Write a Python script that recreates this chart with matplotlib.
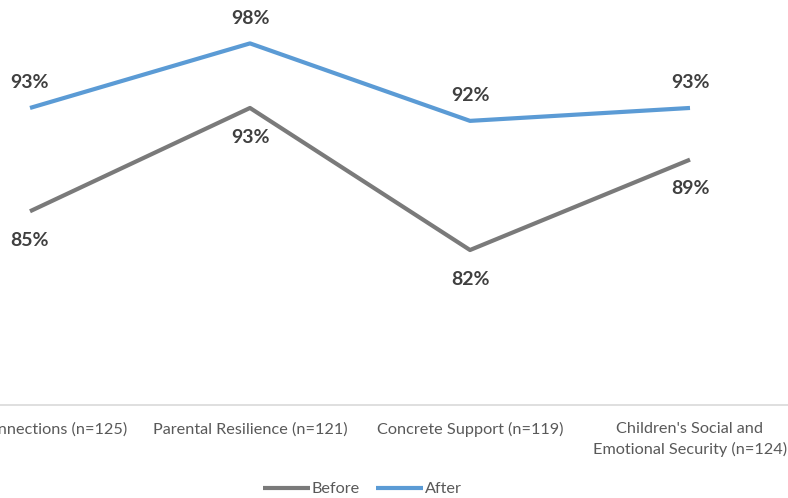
import matplotlib.pyplot as plt
import numpy as np

# Data
categories = ['Social Connections (n=125)', 'Parental Resilience (n=121)',
              'Concrete Support (n=119)', "Children's Social and\nEmotional Security (n=124)"]
before = [85, 93, 82, 89]
after = [93, 98, 92, 93]

plt.rcParams['font.family'] = ['Lato', 'DejaVu Sans']

W, H = 788, 498
fig = plt.figure(figsize=(W/100, H/100), dpi=100)
# axes spans the whole width, bottom axis line at y=405px
ax = fig.add_axes([0, (H-405)/H, 1, 405/H])

x = np.arange(len(categories))
gray = '#7a7a7a'
blue = '#5b9bd5'
ax.plot(x, before, color=gray, lw=3, solid_capstyle='butt', label='Before')
ax.plot(x, after, color=blue, lw=3, solid_capstyle='butt', label='After')

for xi, v in zip(x, before):
    ax.annotate(f'{v}%', (xi, v), xytext=(0, -21), textcoords='offset points',
                ha='center', va='center', fontsize=14, fontweight='bold', color='#404040')
for xi, v in zip(x, after):
    ax.annotate(f'{v}%', (xi, v), xytext=(0, 18), textcoords='offset points',
                ha='center', va='center', fontsize=14, fontweight='bold', color='#404040')

# pixel mapping: index 0 at 30px, 220px per category
ax.set_xlim((0-30)/220, (W-30)/220)
ax.set_ylim(70, 93 + 107/12.8)

ax.set_xticks(x)
ax.set_xticklabels(categories, fontsize=11.7, color='#595959', linespacing=1.5, va='top')
ax.tick_params(axis='x', length=0, pad=12.5)
ax.set_yticks([])
for s in ['top', 'left', 'right']:
    ax.spines[s].set_visible(False)
ax.spines['bottom'].set_color('#d9d9d9')
ax.spines['bottom'].set_linewidth(1.2)

leg = fig.legend(loc='center', bbox_to_anchor=(362/W, 1 - 489/H), ncol=2, frameon=False,
                 fontsize=11.7, handlelength=2.9, handletextpad=0.1, columnspacing=1.0)
for t in leg.get_texts():
    t.set_color('#595959')

fig.savefig('out.png', dpi=100)
